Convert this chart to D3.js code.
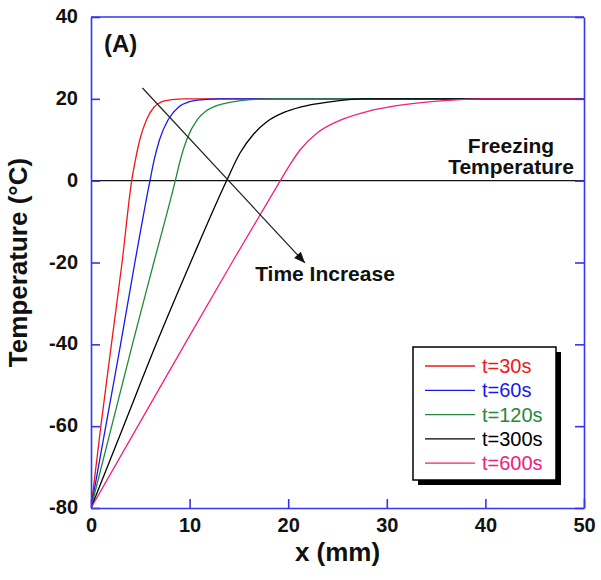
<!DOCTYPE html>
<html>
<head>
<meta charset="utf-8">
<script src="https://cdnjs.cloudflare.com/ajax/libs/d3/7.8.5/d3.min.js"></script>
<style>
  body { margin: 0; background: #fff; }
  svg { font-family: "Liberation Sans", Arial, Helvetica, sans-serif; }
</style>
</head>
<body>
<div id="chart"></div>
<script>
// tick values
var xTicks = [0, 10, 20, 30, 40, 50];
var yTicks = [-80, -60, -40, -20, 0, 20, 40];

// temperature profiles: [x (mm), T (degC)]
var t30 = [[0,-80],[1.0,-60],[2.07,-40],[3.15,-20],[4.13,0],[4.5,5],[4.95,10],[5.65,15],[6.4,18],[7.2,19.3],[8.2,19.8],[9.5,20],[50,20]];
var t60 = [[0,-80],[1.5,-60],[3.0,-40],[4.45,-20],[5.98,0],[6.4,5],[6.95,10],[7.85,15],[8.9,18],[10.0,19.3],[11.4,19.8],[13,20],[50,20]];
var t120 = [[0,-80],[2.1,-60],[4.2,-40],[6.37,-20],[8.55,0],[9.05,5],[9.7,10],[10.8,15],[11.6,16.9],[12.5,18.1],[13.6,18.9],[15,19.5],[16.7,19.85],[18.5,20],[50,20]];
var t300 = [[0,-80],[3.3,-60],[6.6,-40],[10.1,-20],[13.75,0],[15.1,6.7],[16.5,11.4],[17.9,14.5],[19.8,16.9],[22.2,18.5],[24.6,19.4],[27.5,20],[50,20]];
var t600 = [[0,-80],[4.75,-60],[9.5,-40],[14.3,-20],[19.2,0],[20.2,4.0],[21.2,7.5],[22.9,11.6],[25.3,14.8],[28.0,16.9],[30.7,18.2],[34.0,19.2],[37,19.75],[40,20],[50,20]];

var seriesNames = ["t=30s", "t=60s", "t=120s", "t=300s", "t=600s"];
var seriesData = [t30, t60, t120, t300, t600];
var seriesColors = ["#f01818", "#1818f0", "#1f8a3a", "#000000", "#f0207e"];

// annotation: freezing temperature and time arrow (data units)
var freezeT = 0;
var arrowFrom = [5.22, 22.65];
var arrowTo = [21.7, -20.1];

var width = 601, height = 580;
var margin = {top: 17, right: 17, bottom: 72, left: 91};
var axisColor = "#3535f0";

var svg = d3.select("#chart").append("svg")
    .attr("width", width)
    .attr("height", height);

var x = d3.scaleLinear().domain([0, 50]).range([margin.left, width - margin.right]);
var y = d3.scaleLinear().domain([-80, 40]).range([height - margin.bottom, margin.top]);

svg.append("defs").append("clipPath").attr("id", "plot-clip")
  .append("rect")
    .attr("x", x(0)).attr("y", y(40))
    .attr("width", x(50) - x(0)).attr("height", y(-80) - y(40));

// arrow head marker
svg.select("defs").append("marker")
    .attr("id", "end-arrow")
    .attr("viewBox", "0 -5 10 10")
    .attr("refX", 10)
    .attr("markerUnits", "userSpaceOnUse")
    .attr("markerWidth", 15)
    .attr("markerHeight", 11)
    .attr("orient", "auto")
  .append("path")
    .attr("d", "M0,-4.2L10,0L0,4.2Z")
    .attr("fill", "#111");

var plot = svg.append("g").attr("clip-path", "url(#plot-clip)");

// freezing line
plot.append("line")
    .attr("x1", x(0)).attr("x2", x(50))
    .attr("y1", y(freezeT)).attr("y2", y(freezeT))
    .attr("stroke", "#111")
    .attr("stroke-width", 1.3);

var line = d3.line()
    .x(function(d) { return x(d[0]); })
    .y(function(d) { return y(d[1]); })
    .curve(d3.curveMonotoneX);

plot.selectAll("path.curve")
    .data(seriesData)
  .enter().append("path")
    .attr("class", "curve")
    .attr("d", line)
    .attr("fill", "none")
    .attr("stroke", function(d, i) { return seriesColors[i]; })
    .attr("stroke-width", 1.3);

// time arrow
svg.append("line")
    .attr("x1", x(arrowFrom[0])).attr("y1", y(arrowFrom[1]))
    .attr("x2", x(arrowTo[0])).attr("y2", y(arrowTo[1]))
    .attr("stroke", "#222")
    .attr("stroke-width", 1.2)
    .attr("marker-end", "url(#end-arrow)");

svg.append("text")
    .attr("x", 325).attr("y", 281)
    .attr("text-anchor", "middle")
    .attr("font-size", 21).attr("font-weight", "bold")
    .attr("fill", "#111")
    .text("Time Increase");

var fz = svg.append("text")
    .attr("text-anchor", "middle")
    .attr("font-size", 21).attr("font-weight", "bold")
    .attr("fill", "#111");
fz.append("tspan").attr("x", 511).attr("y", 153).text("Freezing");
fz.append("tspan").attr("x", 511).attr("y", 174).text("Temperature");

svg.append("text")
    .attr("x", 104).attr("y", 52)
    .attr("font-size", 24).attr("font-weight", "bold")
    .attr("fill", "#111")
    .text("(A)");

// axes (ticks point inward), plain hyphen for negatives
var fmt = function(d) { return String(d); };
var yAxis = svg.append("g")
    .attr("transform", "translate(" + margin.left + ",0)")
    .call(d3.axisLeft(y).tickValues(yTicks).tickFormat(fmt).tickSizeInner(-9).tickSizeOuter(0).tickPadding(13));
var xAxis = svg.append("g")
    .attr("transform", "translate(0," + (height - margin.bottom) + ")")
    .call(d3.axisBottom(x).tickValues(xTicks).tickFormat(fmt).tickSizeInner(-9).tickSizeOuter(0).tickPadding(10));
var rAxis = svg.append("g")
    .attr("transform", "translate(" + (width - margin.right) + ",0)")
    .call(d3.axisRight(y).tickValues(yTicks).tickSizeInner(-9).tickSizeOuter(0).tickFormat(""));

[yAxis, xAxis, rAxis].forEach(function(a) {
  a.select(".domain").attr("stroke", axisColor).attr("stroke-width", 1.6);
  a.selectAll(".tick line").attr("stroke", axisColor).attr("stroke-width", 1.6);
  a.selectAll(".tick text")
    .attr("fill", "#111")
    .attr("font-size", 20)
    .attr("font-weight", "bold")
    .attr("font-family", "'Liberation Sans', Arial, sans-serif");
});
yAxis.selectAll(".tick text").attr("dy", "0.28em");

svg.append("line")
    .attr("x1", x(0)).attr("x2", x(50))
    .attr("y1", y(40)).attr("y2", y(40))
    .attr("stroke", axisColor).attr("stroke-width", 1.6);

// axis titles
svg.append("text")
    .attr("transform", "translate(27," + ((y(40) + y(-80)) / 2) + ") rotate(-90)")
    .attr("text-anchor", "middle")
    .attr("font-size", 26).attr("font-weight", "bold")
    .attr("fill", "#111")
    .text("Temperature (\u00B0C)");

svg.append("text")
    .attr("x", (x(0) + x(50)) / 2).attr("y", 561)
    .attr("text-anchor", "middle")
    .attr("font-size", 26).attr("font-weight", "bold")
    .attr("fill", "#111")
    .text("x (mm)");

// legend
var lg = svg.append("g").attr("transform", "translate(413,347)");
lg.append("rect")
    .attr("x", 5).attr("y", 5).attr("width", 143).attr("height", 133)
    .attr("fill", "#000");
lg.append("rect")
    .attr("width", 143).attr("height", 133)
    .attr("fill", "#fff")
    .attr("stroke", "#000").attr("stroke-width", 1.5);

var items = lg.selectAll("g.item")
    .data(seriesNames)
  .enter().append("g")
    .attr("class", "item")
    .attr("transform", function(d, i) { return "translate(0," + (19 + i * 24.3) + ")"; });
items.append("line")
    .attr("x1", 12).attr("x2", 62)
    .attr("stroke", function(d, i) { return seriesColors[i]; })
    .attr("stroke-width", 1.3);
items.append("text")
    .attr("x", 69).attr("y", 7)
    .attr("font-size", 20)
    .attr("fill", function(d, i) { return seriesColors[i]; })
    .text(function(d) { return d; });
</script>
</body>
</html>
